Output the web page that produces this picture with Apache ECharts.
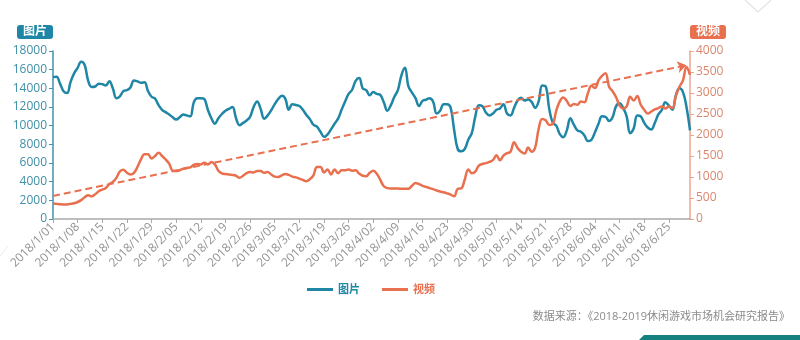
<!DOCTYPE html>
<html>
<head>
<meta charset="utf-8">
<script src="https://cdn.jsdelivr.net/npm/echarts@6/dist/echarts.min.js"></script>
<style>
html,body{margin:0;padding:0;background:#fff;}
#chart{width:800px;height:340px;}
</style>
</head>
<body>
<div id="chart"></div>
<script>
// ---- data ----
const seriesNames = ['图片', '视频'];
const startDate = [2018, 1, 1];
const dayCount = 182;
const imageValues = [
  15200,15250,14500,13700,13500,14700,15600,16200,16850,16500,
  14800,14150,14200,14500,14450,14300,14750,14000,12950,13150,
  13700,13800,14100,14850,14750,14600,14650,13700,13100,12900,
  12200,11700,11450,11200,10900,10650,10900,11200,11100,11000,
  12500,12950,12950,12850,11700,10800,10200,10800,11250,11600,
  11800,12000,10800,10050,10300,10550,10950,12000,12600,11800,
  10750,11100,11650,12300,12850,13200,12900,11700,12300,12220,
  12100,11700,11150,10700,10100,9900,9350,8800,9050,9600,
  10200,10750,11700,12600,13400,13850,14800,15100,14000,13800,
  13250,13600,13400,13300,12500,11600,12200,13100,13800,15400,
  16200,14200,13550,12950,12100,12650,12780,12950,12600,11300,
  11600,12300,12300,11900,9500,7500,7250,7500,8500,9200,
  11000,12200,12100,11400,11100,11300,11700,11850,12300,11300,
  11100,11900,12700,13000,12700,12800,12550,11900,12600,14300,
  14200,11800,10300,10000,9100,8770,9500,10800,10100,9500,
  9350,8950,8350,8500,9300,10200,11000,10950,10500,10900,
  12100,12400,11900,11000,9200,9700,11100,11000,10300,9800,
  9600,10300,11200,11700,12500,12150,11700,13300,14000,13600,
  12000,9500
];
const videoValues = [
  370,360,350,345,348,360,375,405,450,520,
  565,540,590,660,700,740,830,880,980,1130,
  1170,1100,1060,1100,1240,1420,1540,1540,1440,1500,
  1580,1500,1420,1320,1150,1140,1160,1200,1215,1230,
  1290,1310,1300,1340,1300,1356,1300,1150,1085,1070,
  1058,1050,1030,980,1030,1090,1120,1110,1140,1140,
  1100,1120,1060,1010,1000,1040,1070,1050,1010,990,
  960,930,900,950,1040,1240,1240,1110,1180,1060,
  1180,1090,1160,1160,1180,1150,1160,1080,1030,1020,
  1100,1150,1080,930,780,735,726,726,726,720,
  718,720,790,860,830,790,765,735,710,680,
  655,635,610,580,540,720,730,940,1180,1090,
  1130,1270,1310,1330,1360,1400,1515,1400,1510,1570,
  1600,1830,1690,1600,1560,1700,1600,1700,2150,2380,
  2350,2240,2260,2580,2800,2890,2810,2690,2740,2720,
  2800,2780,3000,3170,3120,3300,3410,3470,3150,3040,
  2900,2700,2630,2680,2910,2820,2930,2720,2600,2510,
  2560,2610,2640,2680,2630,2680,2640,2930,3150,3300,
  3620,3430
];
// video trend line: [category index, value]
const trendStart = [0, 550];
const trendEnd = [180, 3660];
const leftAxisRange = [0, 18000, 2000];
const rightAxisRange = [0, 4000, 500];
const sourceText = '数据来源：《2018-2019休闲游戏市场机会研究报告》';

// build daily categories like 2018/1/01
const categories = [];
for (let i = 0; i < dayCount; i++) {
  const d = new Date(startDate[0], startDate[1] - 1, startDate[2] + i);
  const dd = d.getDate() < 10 ? '0' + d.getDate() : '' + d.getDate();
  categories.push(d.getFullYear() + '/' + (d.getMonth() + 1) + '/' + dd);
}

const BLUE = '#1f87a5';
const ORANGE = '#e8704f';
const FONT = '"Open Sans", "Noto Sans CJK SC", sans-serif';
const plain = v => String(v);

const chart = echarts.init(document.getElementById('chart'), null, {renderer: 'canvas'});
chart.setOption({
  backgroundColor: '#fff',
  animation: false,
  textStyle: {fontFamily: FONT},
  grid: {left: 53, right: 110, top: 51, bottom: 121},
  legend: {
    left: 302, top: 279,
    itemWidth: 26, itemHeight: 3, itemGap: 22,
    icon: 'rect',
    textStyle: {fontSize: 11, fontWeight: 'bold', fontFamily: FONT},
    data: [
      {name: seriesNames[0], textStyle: {color: BLUE}},
      {name: seriesNames[1], textStyle: {color: ORANGE}}
    ]
  },
  xAxis: {
    type: 'category',
    data: categories,
    boundaryGap: false,
    axisLine: {lineStyle: {color: '#a9a9a9', width: 1.5}},
    axisTick: {interval: 6, length: 4, lineStyle: {color: '#a9a9a9'}},
    axisLabel: {interval: 6, rotate: 45, color: '#939393', fontSize: 12, margin: 6, fontFamily: FONT}
  },
  yAxis: [
    {
      type: 'value',
      min: leftAxisRange[0], max: leftAxisRange[1], interval: leftAxisRange[2],
      name: seriesNames[0],
      nameLocation: 'end',
      nameGap: 12,
      nameTextStyle: {
        color: '#fff', backgroundColor: BLUE, borderRadius: 3,
        padding: [1, 6], align: 'right', verticalAlign: 'bottom',
        fontSize: 12, fontWeight: 'bold', fontFamily: FONT
      },
      axisLine: {show: true, lineStyle: {color: '#3f93ab', width: 1.5}},
      axisTick: {show: true, length: 4, lineStyle: {color: '#3f93ab'}},
      axisLabel: {color: '#3f8fa8', fontSize: 12, margin: 6, fontFamily: FONT, formatter: plain},
      splitLine: {show: false}
    },
    {
      type: 'value',
      min: rightAxisRange[0], max: rightAxisRange[1], interval: rightAxisRange[2],
      name: seriesNames[1],
      nameLocation: 'end',
      nameGap: 12,
      nameTextStyle: {
        color: '#fff', backgroundColor: ORANGE, borderRadius: 3,
        padding: [1, 6], align: 'left', verticalAlign: 'bottom',
        fontSize: 12, fontWeight: 'bold', fontFamily: FONT
      },
      axisLine: {show: true, lineStyle: {color: '#eca58f', width: 1.5}},
      axisTick: {show: true, length: 4, lineStyle: {color: '#eca58f'}},
      axisLabel: {color: '#d9866e', fontSize: 12, margin: 6, fontFamily: FONT, formatter: plain},
      splitLine: {show: false}
    }
  ],
  series: [
    {
      name: seriesNames[0],
      type: 'line',
      yAxisIndex: 0,
      data: imageValues,
      smooth: 0.4,
      showSymbol: false,
      lineStyle: {color: BLUE, width: 2.5},
      itemStyle: {color: BLUE}
    },
    {
      name: seriesNames[1],
      type: 'line',
      yAxisIndex: 1,
      data: videoValues,
      smooth: 0.4,
      showSymbol: false,
      lineStyle: {color: ORANGE, width: 2.5},
      itemStyle: {color: ORANGE},
      markLine: {
        silent: true,
        symbol: ['none', 'arrow'],
        symbolSize: [9, 9],
        label: {show: false},
        lineStyle: {color: ORANGE, type: [7, 4], width: 2},
        data: [[{coord: trendStart}, {coord: trendEnd}]]
      }
    }
  ],
  graphic: [
    {
      type: 'text', right: 10, top: 311,
      style: {text: sourceText, fill: '#8a8a8a', fontSize: 11, fontFamily: FONT}
    },
    {
      type: 'polyline',
      shape: {points: [[745, 0], [758, 12], [771, 0]]},
      style: {stroke: '#e3e3e3', lineWidth: 1.2, fill: null}
    },
    {
      type: 'polyline',
      shape: {points: [[0, 256], [8, 246]]},
      style: {stroke: '#ececec', lineWidth: 1, fill: null}
    },
    {
      type: 'polygon',
      shape: {points: [[638, 341], [644, 335], [800, 335], [800, 341]]},
      style: {fill: '#15817f'}
    }
  ]
});
</script>
</body>
</html>
